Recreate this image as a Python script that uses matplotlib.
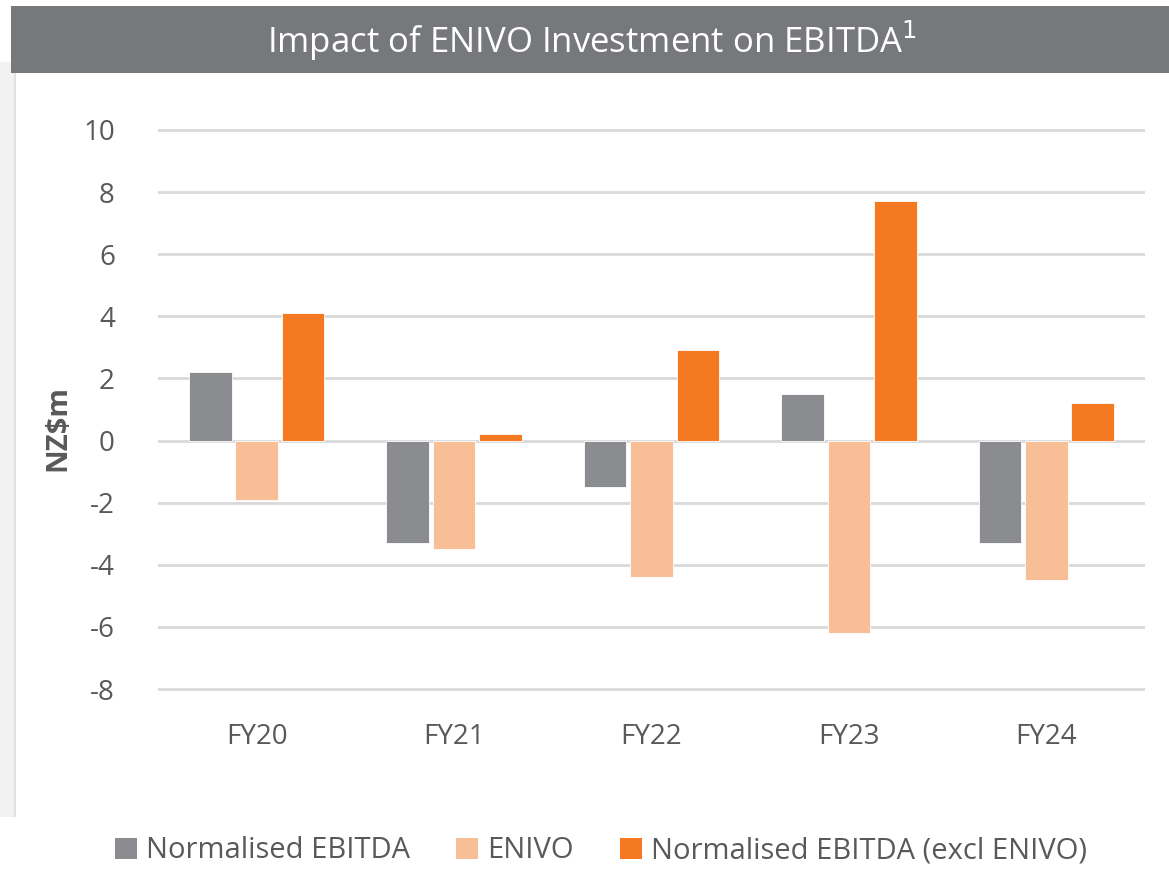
import numpy as np
import matplotlib
matplotlib.use("Agg")
import matplotlib.pyplot as plt
from matplotlib.patches import Rectangle

years = ["FY20", "FY21", "FY22", "FY23", "FY24"]
normalised = [2.2, -3.3, -1.5, 1.5, -3.3]
enivo = [-1.9, -3.5, -4.4, -6.2, -4.5]
excl_enivo = [4.1, 0.2, 2.9, 7.7, 1.2]

series_names = ["Normalised EBITDA", "ENIVO", "Normalised EBITDA (excl ENIVO)"]
colors = ["#8a8c8f", "#f8bf97", "#f47920"]

plt.rcParams['font.family'] = ['Open Sans', 'DejaVu Sans']
plt.rcParams['axes.unicode_minus'] = False
text_col = "#595959"

W, H = 1169, 892
fig = plt.figure(figsize=(W / 100, H / 100), dpi=100)
fig.patch.set_facecolor("white")

# page strip on the left and title bar
fig.patches.append(Rectangle((0, 1 - 817 / H), 14 / W, (817 - 62) / H,
                             transform=fig.transFigure, facecolor="#f2f2f2",
                             edgecolor="none", zorder=0))
fig.patches.append(Rectangle((14 / W, 1 - 817 / H), 2 / W, (817 - 73) / H,
                             transform=fig.transFigure, facecolor="#e2e2e2",
                             edgecolor="none", zorder=0))
fig.patches.append(Rectangle((11 / W, 1 - 73 / H), 1 - 11 / W, 67 / H,
                             transform=fig.transFigure, facecolor="#76787b",
                             edgecolor="none", zorder=1))
fig.text(592 / W, 1 - 41 / H, "Impact of ENIVO Investment on EBITDA$^1$",
         color="white", fontsize=25, ha="center", va="center")

ax = fig.add_axes([158 / W, 1 - 720 / H, (1145 - 158) / W, (720 - 100) / H])

x = np.arange(len(years))
w = 0.215
offs = [-0.235, 0, 0.235]
for vals, off, c, name in zip([normalised, enivo, excl_enivo], offs, colors, series_names):
    ax.bar(x + off, vals, w, color=c, label=name, zorder=3,
           edgecolor="white", linewidth=0.6)

# pixel mapping: 10 at y=130, -8 at y=689
ppu = (689 - 130) / 18
ax.set_ylim(-8 - (720 - 689) / ppu, 10 + (130 - 100) / ppu)
ax.set_xlim(-0.5, 4.5)
ax.set_yticks(range(-8, 11, 2))
ax.grid(axis="y", color="#d9d9d9", linewidth=2, zorder=0)
for s in ax.spines.values():
    s.set_visible(False)
ax.tick_params(length=0, labelsize=20, colors=text_col)
ax.tick_params(axis="y", pad=31)
ax.tick_params(axis="x", pad=2)
ax.set_xticks(x)
ax.set_xticklabels(years)
ax.set_ylabel("NZ$m", fontsize=21, fontweight="bold", color=text_col)
ax.yaxis.set_label_coords((72 - 158) / (1145 - 158), (720 - 428) / (720 - 100))

leg = fig.legend(loc="center", bbox_to_anchor=(601 / W, 1 - 851 / H), ncol=3,
                 frameon=False, fontsize=21, handlelength=0.75, handleheight=0.75,
                 handletextpad=0.3, columnspacing=1.6, labelcolor=text_col)
for h in leg.legend_handles:
    h.set_edgecolor("none")

fig.savefig("out.png", dpi=100)
